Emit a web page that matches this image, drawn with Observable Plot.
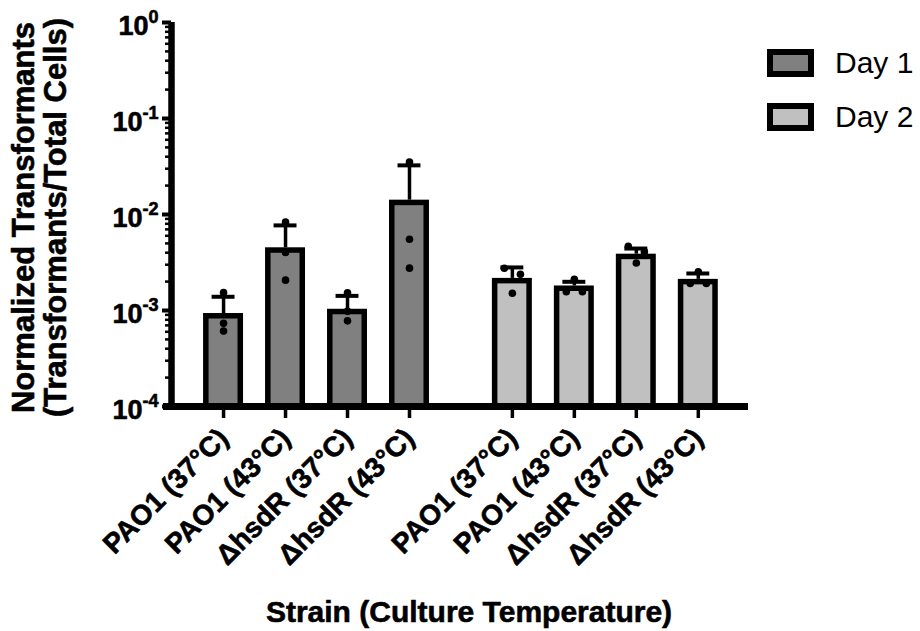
<!DOCTYPE html>
<html><head><meta charset="utf-8">
<script src="https://cdn.jsdelivr.net/npm/d3@7"></script>
<script src="https://cdn.jsdelivr.net/npm/@observablehq/plot@0.6"></script>
<style>
body{margin:0;background:#fff;}
#wrap{position:relative;width:920px;height:631px;font-family:"Liberation Sans",Arial,sans-serif;}
#legend{position:absolute;left:767px;top:49px;}
.item{display:flex;align-items:center;height:28px;margin-bottom:26px;}
.sw{box-sizing:border-box;width:47px;height:28px;border:6px solid #000;}
.lab{margin-left:21px;font-size:30px;color:#000;line-height:28px;}
</style></head><body><div id="wrap"><div id="legend"></div></div>
<script>
// ---- data ----
const strains = ["PAO1 (37°C)", "PAO1 (43°C)", "ΔhsdR (37°C)", "ΔhsdR (43°C)"];
const days = ["Day 1", "Day 2"];
const dayFill = ["#808080", "#c0c0c0"];
const meanDay1 = [9.3e-4, 4.5e-3, 1.03e-3, 1.41e-2];
const meanDay2 = [2.16e-3, 1.80e-3, 3.86e-3, 2.11e-3];
const sdTopDay1 = [1.39e-3, 7.7e-3, 1.42e-3, 3.25e-2];
const sdTopDay2 = [2.81e-3, 1.99e-3, 4.42e-3, 2.43e-3];
const pointsDay1 = [[1.54e-3, 7.35e-4, 6.1e-4], [8.36e-3, 4.02e-3, 2.07e-3], [1.53e-3, 9.8e-4, 7.8e-4], [3.52e-2, 5.52e-3, 2.76e-3]];
const pointsDay2 = [[2.75e-3, 2.38e-3, 1.51e-3], [2.11e-3, 1.57e-3, 1.57e-3], [4.67e-3, 4.1e-3, 3.13e-3], [2.53e-3, 1.91e-3, 1.91e-3]];
const majorTicks = [1e-4, 1e-3, 1e-2, 1e-1, 1];
const xTitle = "Strain (Culture Temperature)";
const yTitle = "Normalized Transformants\n(Transformants/Total Cells)";

// ---- layout helpers ----
const dayGap = 0.66;     // extra slot spacing between the two days
const halfBar = 0.278;   // half bar width (x units)
const halfCap = 0.185;   // half error-cap width
const spread = 0.26;     // horizontal spacing of overlapping dots
const means = [meanDay1, meanDay2], tops = [sdTopDay1, sdTopDay2], pts = [pointsDay1, pointsDay2];
const bars = [], dots = [];
days.forEach((day, di) => {
  strains.forEach((strain, si) => {
    const pos = di * (strains.length + dayGap) + si;
    bars.push({day, strain, pos, mean: means[di][si], top: tops[di][si]});
    const vals = pts[di][si].slice().sort((a, b) => b - a);
    const clusters = [];
    vals.forEach(v => {
      const c = clusters[clusters.length - 1];
      if (c && Math.abs(Math.log10(c[c.length - 1]) - Math.log10(v)) < 0.075) c.push(v);
      else clusters.push([v]);
    });
    clusters.forEach(c => c.forEach((v, j) => dots.push({day, pos: pos + (j - (c.length - 1) / 2) * spread, v})));
  });
});
const minorTicks = [];
for (let e = -4; e < 0; e++) for (let k = 2; k <= 9; k++) minorTicks.push(k * Math.pow(10, e));
const labelByPos = new Map(bars.map(b => [b.pos.toFixed(3), b.strain]));
const xDomain = [-0.84, 8.47];

const chart = Plot.plot({
  width: 920, height: 631,
  marginLeft: 171, marginRight: 172, marginTop: 22, marginBottom: 225,
  style: {fontFamily: '"Liberation Sans", Arial, sans-serif', color: "#000", background: "#fff"},
  x: {type: "linear", domain: xDomain},
  y: {type: "log", domain: [1e-4, 1]},
  color: {domain: days, range: dayFill},
  marks: [
    Plot.rectY(bars, {x1: d => d.pos - halfBar, x2: d => d.pos + halfBar, y1: 1e-4, y2: "mean",
      fill: "day", stroke: "#000", strokeWidth: 5.5, insetTop: 2.75}),
    Plot.ruleX(bars, {x: "pos", y1: "mean", y2: "top", stroke: "#000", strokeWidth: 3.5}),
    Plot.ruleY(bars, {y: "top", x1: d => d.pos - halfCap, x2: d => d.pos + halfCap, stroke: "#000", strokeWidth: 4}),
    Plot.dot(dots, {x: "pos", y: "v", r: 3.8, fill: "#000", stroke: null}),
    Plot.ruleY([1e-4], {stroke: "#000", strokeWidth: 7, insetLeft: -8}),
    Plot.ruleX([xDomain[0]], {y1: 1e-4, y2: 1, stroke: "#000", strokeWidth: 6.5, insetTop: -1}),
    Plot.axisY(minorTicks, {tickSize: 6, strokeWidth: 2.5, tickFormat: () => "", label: null}),
    Plot.axisY(majorTicks, {tickSize: 9, tickPadding: 4, strokeWidth: 4, fontSize: 27, fontWeight: "bold",
      textStroke: "#000", textStrokeWidth: 0.6,
      tickFormat: d => `10^${Math.round(Math.log10(d))}`, label: null}),
    Plot.axisX(bars.map(b => b.pos), {tickSize: 12, tickPadding: 15, strokeWidth: 3.5, tickRotate: -45, fontSize: 28, fontWeight: "bold",
      textStroke: "#000", textStrokeWidth: 0.6,
      tickFormat: d => labelByPos.get(d.toFixed(3)), label: null}),
    Plot.text([xTitle], {frameAnchor: "bottom", dx: 9, dy: 206, fontSize: 30, fontWeight: "bold", lineAnchor: "middle",
      stroke: "#000", strokeWidth: 0.6, fill: "#000"}),
    Plot.text([yTitle], {frameAnchor: "left", rotate: -90, dx: -132, dy: 3, fontSize: 31, fontWeight: "bold",
      lineHeight: 1.03, textAnchor: "middle", lineAnchor: "middle", stroke: "#000", strokeWidth: 0.6, fill: "#000"})
  ]
});

// superscript exponents on the y tick labels
chart.querySelectorAll('g[aria-label="y-axis tick label"] text').forEach(t => {
  const s = t.textContent;
  if (!s.includes("^")) return;
  const [base, exp] = s.split("^");
  t.textContent = base;
  t.setAttribute("dy", "4");
  const ts = document.createElementNS("http://www.w3.org/2000/svg", "tspan");
  ts.setAttribute("font-size", "18");
  ts.setAttribute("dy", "-12");
  ts.textContent = exp;
  t.appendChild(ts);
});
document.getElementById("wrap").prepend(chart);

// legend
const legend = document.getElementById("legend");
days.forEach((d, i) => {
  const item = document.createElement("div"); item.className = "item";
  const sw = document.createElement("div"); sw.className = "sw"; sw.style.background = dayFill[i];
  const lab = document.createElement("span"); lab.className = "lab"; lab.textContent = d;
  item.append(sw, lab); legend.append(item);
});
</script></body></html>
